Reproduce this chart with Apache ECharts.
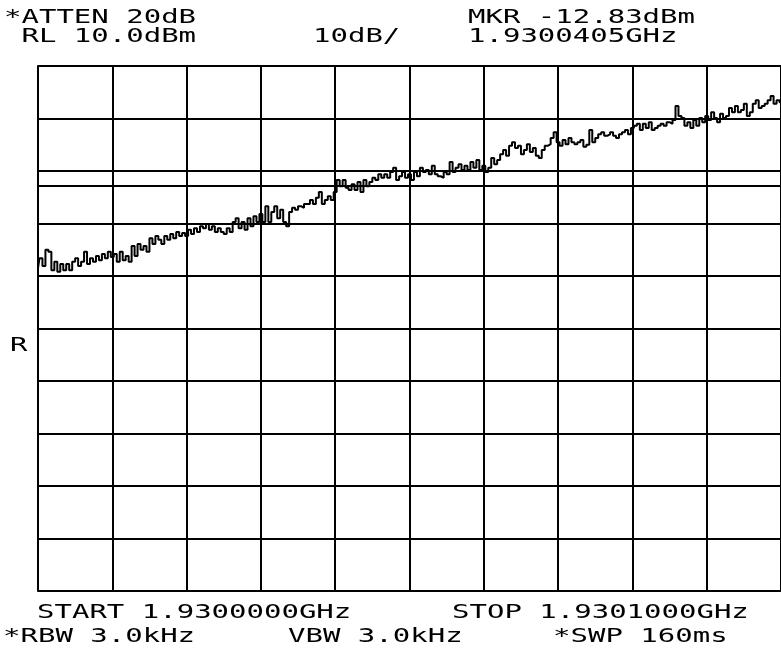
<!DOCTYPE html>
<html>
<head>
<meta charset="utf-8">
<style>
  html, body { margin: 0; padding: 0; background: #fff; }
  #chart-container { width: 781px; height: 665px; }
</style>
<script src="https://cdn.jsdelivr.net/npm/echarts@6/dist/echarts.min.js"></script>
</head>
<body>
<div id="chart-container"></div>
<script>
// sweep: 1.9300000 GHz .. 1.9301000 GHz, 251 points (0.4 kHz apart)
const startKHz = 0;
const stopKHz = 100;
const pointCount = 251;

// trace levels in dBm
const traceLevels = [
    -28.5, -26.6, -28.1, -25.0, -25.4, -28.9, -27.3, -29.2, -27.7, -28.9,
    -27.7, -28.9, -27.3, -26.6, -28.1, -27.3, -25.4, -27.7, -26.6, -27.3,
    -26.2, -27.0, -25.8, -26.6, -25.4, -26.4, -25.8, -27.3, -25.4, -27.0,
    -26.2, -27.3, -24.3, -26.2, -23.9, -25.0, -24.3, -25.4, -22.8, -23.9,
    -22.4, -23.1, -23.9, -22.4, -23.1, -22.0, -22.8, -21.6, -22.4, -21.8,
    -22.4, -21.2, -22.0, -20.9, -21.6, -20.5, -20.9, -20.1, -21.2, -20.5,
    -21.6, -20.9, -21.6, -22.0, -20.9, -21.6, -19.7, -19.0, -20.9, -19.7,
    -21.2, -19.0, -20.5, -18.6, -19.7, -18.2, -19.7, -16.7, -19.7, -17.8,
    -16.7, -19.0, -17.4, -19.7, -20.5, -17.8, -17.0, -17.4, -16.7, -17.0,
    -16.3, -16.3, -15.5, -16.3, -15.1, -14.0, -16.3, -15.5, -14.8, -15.5,
    -14.0, -11.7, -12.9, -11.7, -13.2, -13.6, -12.5, -13.6, -12.1, -14.0,
    -11.7, -12.9, -12.1, -11.3, -11.7, -10.6, -11.3, -10.6, -11.3, -10.2,
    -9.4, -11.7, -11.0, -10.2, -11.3, -10.6, -11.7, -10.2, -11.0, -9.4,
    -10.2, -9.8, -10.6, -9.0, -10.6, -11.0, -11.3, -10.2, -10.6, -8.3,
    -10.2, -9.4, -8.7, -9.8, -9.0, -9.8, -8.3, -9.4, -7.9, -9.8,
    -9.0, -10.2, -9.4, -7.5, -8.7, -7.9, -6.8, -6.0, -7.1, -5.2,
    -4.5, -5.6, -5.2, -6.8, -6.0, -4.9, -6.4, -5.6, -7.1, -7.5,
    -6.0, -5.2, -4.9, -3.7, -2.6, -4.5, -5.2, -4.1, -4.9, -3.7,
    -4.5, -4.9, -4.5, -4.1, -5.4, -5.0, -2.2, -4.5, -3.7, -3.0,
    -2.6, -3.3, -3.0, -2.6, -3.3, -3.7, -3.0, -2.6, -2.2, -3.0,
    -1.8, -1.4, -1.0, -2.2, -1.0, -1.8, -0.7, -2.2, -1.8, -1.4,
    -1.0, -1.4, -0.7, -1.0, -0.3, 2.4, 0.5, 0.1, -1.4, -0.7,
    -1.8, -0.3, -1.4, 0.1, -0.7, 0.5, -0.3, 1.2, 0.1, -0.7,
    0.9, 0.1, 0.5, 2.0, 1.2, 2.4, 1.2, 1.6, 2.8, 0.5,
    1.2, 2.8, 3.5, 2.0, 2.4, 2.8, 3.5, 4.3, 2.8, 3.5, 3.1
];

const refLevel = 10;     // dBm, top of screen
const bottomLevel = -90; // 10 dB/div, 10 divisions
const markerLevel = -12.83;

// annotation texts on the analyzer screen
const headerLeft = ['*ATTEN 20dB', ' RL 10.0dBm'];
const headerMid = '10dB/';
const headerRight = ['MKR -12.83dBm', '1.9300405GHz'];
const footerTop = ['START 1.9300000GHz', 'STOP 1.9301000GHz'];
const footerBottom = ['*RBW 3.0kHz', 'VBW 3.0kHz', '*SWP 160ms'];
const refMark = 'R';

var sweepPoints = [];
for (var i = 0; i < pointCount; i++) {
    sweepPoints.push((startKHz + (stopKHz - startKHz) * i / (pointCount - 1)).toFixed(1));
}

var dom = document.getElementById('chart-container');
var myChart = echarts.init(dom, null, { renderer: 'canvas' });

const FONT = '20px "DejaVu Sans Mono"';
function label(txt, x, y) {
    return {
        type: 'text',
        x: x,
        y: y,
        scaleX: 1.45,
        style: {
            text: txt,
            font: FONT,
            fill: '#000',
            verticalAlign: 'middle'
        }
    };
}

var option = {
    animation: false,
    backgroundColor: '#fff',
    grid: {
        left: 38,
        top: 66,
        width: 752,
        height: 525
    },
    xAxis: {
        type: 'category',
        data: sweepPoints,
        boundaryGap: false,
        axisLine: { show: true, lineStyle: { color: '#000', width: 2 } },
        axisTick: { show: false },
        axisLabel: { show: false },
        splitLine: {
            show: true,
            interval: 24,
            lineStyle: { color: '#000', width: 2 }
        }
    },
    yAxis: {
        type: 'value',
        min: bottomLevel,
        max: refLevel,
        interval: 10,
        axisLine: { show: true, lineStyle: { color: '#000', width: 2 } },
        axisTick: { show: false },
        axisLabel: { show: false },
        splitLine: { show: true, lineStyle: { color: '#000', width: 2 } }
    },
    series: [
        {
            type: 'line',
            data: traceLevels,
            symbol: 'none',
            step: 'middle',
            lineStyle: { color: '#000', width: 2 },
            markLine: {
                silent: true,
                symbol: 'none',
                label: { show: false },
                lineStyle: { color: '#000', width: 2, type: 'solid' },
                data: [{ yAxis: markerLevel }]
            }
        }
    ],
    graphic: [
        label(headerLeft[0], 4, 18),
        label(headerLeft[1], 4, 37),
        label(headerMid, 313, 37),
        label(headerRight[0], 468, 18),
        label(headerRight[1], 468, 37),
        label(refMark, 10, 346),
        label(footerTop[0], 37, 613),
        label(footerTop[1], 452, 613),
        label(footerBottom[0], 3, 637),
        label(footerBottom[1], 288, 637),
        label(footerBottom[2], 553, 637)
    ]
};

myChart.setOption(option);
window.addEventListener('resize', myChart.resize);
</script>
</body>
</html>
